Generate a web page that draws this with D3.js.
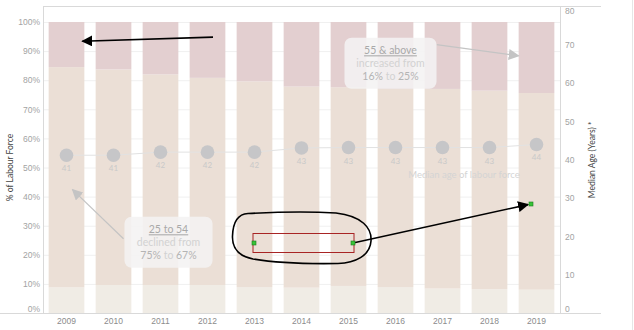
<!DOCTYPE html>
<html>
<head>
<meta charset="utf-8">
<script src="https://cdn.jsdelivr.net/npm/d3@7"></script>
<style>
  html, body { margin: 0; padding: 0; background: #fff; }
  svg { display: block; font-family: Lato, "Open Sans", sans-serif; }
</style>
</head>
<body>
<svg id="chart" width="634" height="330"></svg>
<script>
// Labour force share by age group (% of labour force) and median age
const years = [2009, 2010, 2011, 2012, 2013, 2014, 2015, 2016, 2017, 2018, 2019];
const age15to24 = [8.8, 9.6, 9.6, 9.6, 8.9, 8.7, 9.3, 8.9, 8.4, 8.2, 8.0];
const age25to54 = [75.7, 74.1, 72.4, 71.2, 70.7, 69.1, 68.3, 68.1, 68.6, 68.2, 67.6];
const age55plus = [15.5, 16.3, 18.0, 19.2, 20.4, 22.2, 22.4, 23.0, 23.0, 23.6, 24.4];
const medianAge = [41.2, 41.2, 42.0, 42.0, 42.0, 43.1, 43.2, 43.2, 43.2, 43.2, 44.0];

const pctTicks = [0, 10, 20, 30, 40, 50, 60, 70, 80, 90, 100];
const ageTicks = [0, 10, 20, 30, 40, 50, 60, 70, 80];

const seriesKeys = ["age15to24", "age25to54", "age55plus"];
const seriesColors = { age15to24: "#f0ece5", age25to54: "#ebdfd6", age55plus: "#e3cfd0" };

const rows = years.map((y, i) => ({
  year: y, age15to24: age15to24[i], age25to54: age25to54[i], age55plus: age55plus[i], median: medianAge[i]
}));

const svg = d3.select("#chart");
const L = 43, R = 560, T = 6, B = 313;

const x = d3.scaleBand().domain(years).range([L, R]).paddingInner(0.24).paddingOuter(0.12);
const yPct = d3.scaleLinear().domain([0, 100]).range([B, 22]);
const yAge = d3.scaleLinear().domain([0, 80]).range([B, 6.6]);

const tickColor = "#a3a3a3";

// gridlines
svg.append("g").selectAll("line").data(pctTicks.slice(1)).join("line")
  .attr("x1", L).attr("x2", R)
  .attr("y1", d => yPct(d) + 0.5).attr("y2", d => yPct(d) + 0.5)
  .attr("stroke", "#f0f0f0");

// stacked bars
const stack = d3.stack().keys(seriesKeys)(rows);
svg.append("g").selectAll("g").data(stack).join("g")
  .attr("fill", s => seriesColors[s.key])
  .selectAll("rect").data(s => s).join("rect")
  .attr("x", d => x(d.data.year))
  .attr("width", x.bandwidth())
  .attr("y", d => yPct(d[1]))
  .attr("height", d => yPct(d[0]) - yPct(d[1]));

// frame lines
const frame = svg.append("g").attr("stroke", "#d9d9d9").attr("fill", "none");
frame.append("line").attr("x1", L).attr("x2", 601).attr("y1", T + 0.5).attr("y2", T + 0.5);
frame.append("line").attr("x1", 0).attr("x2", 601).attr("y1", B + 0.5).attr("y2", B + 0.5);
frame.append("line").attr("x1", L + 0.5).attr("x2", L + 0.5).attr("y1", T).attr("y2", B);
frame.append("line").attr("x1", R + 0.5).attr("x2", R + 0.5).attr("y1", T).attr("y2", B);
frame.append("line").attr("x1", 632.5).attr("x2", 632.5).attr("y1", 0).attr("y2", 330).attr("stroke", "#e6e6e6");

// left axis
const leftAxis = svg.append("g").attr("transform", `translate(${L},0)`)
  .call(d3.axisLeft(yPct).tickValues(pctTicks).tickFormat(d => d + "%").tickSize(0).tickPadding(3));
leftAxis.select(".domain").remove();
leftAxis.selectAll("text").attr("fill", tickColor).style("font-size", "8.5px")
  .attr("dy", d => d === 0 ? "-0.2em" : "0.32em");

// right axis
const rightAxis = svg.append("g").attr("transform", `translate(${R},0)`)
  .call(d3.axisRight(yAge).tickValues(ageTicks).tickSize(0).tickPadding(5));
rightAxis.select(".domain").remove();
rightAxis.selectAll("text").attr("fill", tickColor).style("font-size", "8.5px")
  .attr("dy", d => d === 0 ? "-0.2em" : d === 80 ? "0.85em" : "0.32em");

// bottom axis
const bottomAxis = svg.append("g").attr("transform", `translate(0,${B})`)
  .call(d3.axisBottom(x).tickSize(0).tickPadding(5));
bottomAxis.select(".domain").remove();
bottomAxis.selectAll("text").attr("fill", "#8c8c8c").style("font-size", "8.5px");

// axis titles
svg.append("text").attr("transform", `translate(13,${yPct(50)}) rotate(-90)`)
  .attr("text-anchor", "middle").attr("fill", "#444").style("font-size", "8.5px")
  .text("% of Labour Force");
svg.append("text").attr("transform", `translate(595,${yAge(40)}) rotate(-90)`)
  .attr("text-anchor", "middle").attr("fill", "#444").style("font-size", "8.5px")
  .text("Median Age (Years) *");

// median age line with dots and labels
const cx = d => x(d.year) + x.bandwidth() / 2;
svg.append("path").datum(rows)
  .attr("fill", "none").attr("stroke", "#e2e2e2").attr("stroke-width", 1)
  .attr("d", d3.line().x(cx).y(d => yAge(d.median)));
svg.append("g").selectAll("circle").data(rows).join("circle")
  .attr("cx", cx).attr("cy", d => yAge(d.median)).attr("r", 6.8).attr("fill", "#c6c6c8");
svg.append("g").selectAll("text").data(rows).join("text")
  .attr("x", cx).attr("y", d => yAge(d.median) + 16)
  .attr("text-anchor", "middle").attr("fill", "#c9c9c9").style("font-size", "8px")
  .text(d => d3.format(".0f")(d.median));
svg.append("text").attr("x", (cx(rows[8]) + cx(rows[9])) / 2 - 2).attr("y", yAge(35.2))
  .attr("text-anchor", "middle").attr("fill", "#d4d4d4").style("font-size", "9.5px")
  .text("Median age of labour force");

// arrow markers
const defs = svg.append("defs");
function marker(id, color, size) {
  defs.append("marker").attr("id", id).attr("viewBox", "0 0 10 10")
    .attr("refX", 9).attr("refY", 5).attr("markerWidth", size).attr("markerHeight", size)
    .attr("markerUnits", "userSpaceOnUse").attr("orient", "auto")
    .append("path").attr("d", "M0,0 L10,5 L0,10 z").attr("fill", color);
}
marker("grayHead", "#c4c4c4", 11);
marker("blackHead", "#000", 11);

// callout boxes
function callout(cxPos, cyPos, w, h, title, mid, from, to) {
  const g = svg.append("g");
  g.append("rect").attr("x", cxPos - w / 2).attr("y", cyPos - h / 2).attr("width", w).attr("height", h)
    .attr("rx", 7).attr("fill", "#f4f3f2").attr("fill-opacity", 0.88);
  g.append("text").attr("x", cxPos).attr("y", cyPos - 9).attr("text-anchor", "middle")
    .attr("fill", "#a9a9a9").style("font-size", "10.5px").style("text-decoration", "underline")
    .text(title);
  g.append("text").attr("x", cxPos).attr("y", cyPos + 4).attr("text-anchor", "middle")
    .attr("fill", "#d2d2d2").style("font-size", "10.5px").text(mid);
  const t = g.append("text").attr("x", cxPos).attr("y", cyPos + 17).attr("text-anchor", "middle")
    .style("font-size", "10.5px");
  t.append("tspan").attr("fill", "#b4b4b4").text(from);
  t.append("tspan").attr("fill", "#d2d2d2").text(" to ");
  t.append("tspan").attr("fill", "#b4b4b4").text(to);
}

// 55 & above callout and pointer
const b1x = cx(rows[7]) - 5, b1y = yPct(85.8);
svg.append("line").attr("x1", b1x + 46).attr("y1", yPct(92.2)).attr("x2", x(2019)).attr("y2", yPct(88.4))
  .attr("stroke", "#c4c4c4").attr("stroke-width", 1.2).attr("marker-end", "url(#grayHead)");
callout(b1x, b1y, 92, 51, "55 & above", "increased from", "16%", "25%");

// 25 to 54 callout and pointer
const b2x = cx(rows[2]) + 8, b2y = yPct(24.3);
svg.append("line").attr("x1", b2x - 45).attr("y1", yPct(25.5)).attr("x2", cx(rows[0]) + 6).attr("y2", yPct(42.4))
  .attr("stroke", "#c4c4c4").attr("stroke-width", 1.2).attr("marker-end", "url(#grayHead)");
callout(b2x, b2y, 88, 51, "25 to 54", "declined from", "75%", "67%");

// hand-drawn markup
svg.append("line").attr("x1", 213).attr("y1", yPct(94.8)).attr("x2", x(2009) + x.bandwidth() - 2).attr("y2", yPct(93.4))
  .attr("stroke", "#000").attr("stroke-width", 1.6).attr("marker-end", "url(#blackHead)");

svg.append("path")
  .attr("d", "M248,213.5 C285,211.5 320,212 336,213 C362,216 372,228 371,241 C370,256 355,263 338,263.5 " +
             "C305,264 270,262 253,259 C238,256 232,248 232.5,236 C233,222 238,214 248,213.5 Z")
  .attr("fill", "none").attr("stroke", "#000").attr("stroke-width", 1.6);

svg.append("rect").attr("x", 253).attr("y", 233.5).attr("width", 101).attr("height", 19)
  .attr("fill", "none").attr("stroke", "#a82424").attr("stroke-width", 1);

svg.append("line").attr("x1", 353).attr("y1", 243).attr("x2", 528).attr("y2", 204.6)
  .attr("stroke", "#000").attr("stroke-width", 1.6).attr("marker-end", "url(#blackHead)");

svg.append("g").selectAll("rect").data([[254, 243], [353, 243], [531, 204]]).join("rect")
  .attr("x", d => d[0] - 2).attr("y", d => d[1] - 2).attr("width", 4).attr("height", 4)
  .attr("fill", "#37c337").attr("stroke", "#1d7a1d").attr("stroke-width", 0.6);
</script>
</body>
</html>
